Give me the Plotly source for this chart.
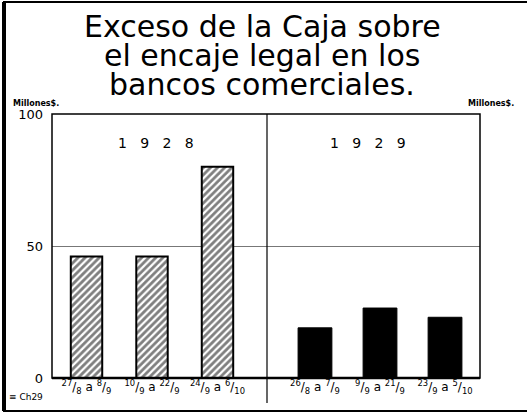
import plotly.graph_objects as go

# ---- data ----
cats_1928 = ["27/8 a 8/9", "10/9 a 22/9", "24/9 a 6/10"]
vals_1928 = [46, 46, 80]
cats_1929 = ["26/8 a 7/9", "9/9 a 21/9", "23/9 a 5/10"]
vals_1929 = [19, 26.5, 23]
tick_1928 = ["<sup>27</sup>/<sub>8</sub> a <sup>8</sup>/<sub>9</sub>",
             "<sup>10</sup>/<sub>9</sub> a <sup>22</sup>/<sub>9</sub>",
             "<sup>24</sup>/<sub>9</sub> a <sup>6</sup>/<sub>10</sub>"]
tick_1929 = ["<sup>26</sup>/<sub>8</sub> a <sup>7</sup>/<sub>9</sub>",
             "<sup>9</sup>/<sub>9</sub> a <sup>21</sup>/<sub>9</sub>",
             "<sup>23</sup>/<sub>9</sub> a <sup>5</sup>/<sub>10</sub>"]
y_ticks = [0, 50, 100]
y_ticktext = ["0", "50", "100"]

FONT = "DejaVu Sans"

# pixel geometry helpers
L, R, T, B = 52, 480, 114, 378
W, H = 527, 415
def px(x):
    return (x - L) / (R - L)
def py(y):
    return (B - y) / (B - T)

split = px(267)

fig = go.Figure()
fig.add_trace(go.Bar(
    x=cats_1928, y=vals_1928, xaxis="x", yaxis="y", width=0.48,
    marker=dict(color="white", line=dict(color="black", width=2),
                pattern=dict(shape="/", fgcolor="black", bgcolor="white",
                             size=5, solidity=0.55)),
    showlegend=False, hoverinfo="skip"))
fig.add_trace(go.Bar(
    x=cats_1929, y=vals_1929, xaxis="x2", yaxis="y", width=0.52,
    marker=dict(color="black", line=dict(color="black", width=1)),
    showlegend=False, hoverinfo="skip"))

tickfont = dict(family=FONT, size=13, color="black")
fig.update_layout(
    width=W, height=H,
    margin=dict(l=L, r=W - R, t=T, b=H - B, pad=0),
    paper_bgcolor="white", plot_bgcolor="white",
    xaxis=dict(domain=[0, split], type="category", range=[-0.527, 2.756],
               tickvals=cats_1928, ticktext=tick_1928, showgrid=False,
               zeroline=False, showline=False, ticks="",
               tickfont=dict(family=FONT, size=12, color="black")),
    xaxis2=dict(domain=[split, 1], type="category", range=[-0.738, 2.538],
                anchor="y", tickvals=cats_1929, ticktext=tick_1929,
                showgrid=False, zeroline=False, showline=False, ticks="",
                tickfont=dict(family=FONT, size=12, color="black")),
    yaxis=dict(range=[0, 100], tickvals=y_ticks, ticktext=y_ticktext,
               showgrid=True, gridcolor="#777777", gridwidth=1.2,
               zeroline=False, showline=False, ticks="", ticklabelstandoff=8,
               tickfont=tickfont),
    yaxis2=dict(range=[0, 100], overlaying="y", side="right", anchor="x2",
                tickvals=y_ticks, ticktext=y_ticktext, showgrid=False,
                zeroline=False, showline=False, ticks="", ticklabelstandoff=18,
                tickfont=tickfont),
)

shapes = []
shapes.append(dict(type="rect", xref="paper", yref="paper", x0=0, x1=1, y0=0, y1=1,
                   line=dict(color="black", width=1.5)))
shapes.append(dict(type="line", xref="paper", yref="paper", x0=split, x1=split, y0=py(403), y1=1,
                   line=dict(color="black", width=1.2)))
shapes.append(dict(type="line", xref="paper", yref="paper", x0=0, x1=1, y0=0, y1=0,
                   line=dict(color="black", width=2.5)))
shapes.append(dict(type="line", xref="paper", yref="paper", x0=px(4), x1=px(4), y0=py(411), y1=py(2),
                   line=dict(color="black", width=4)))
shapes.append(dict(type="line", xref="paper", yref="paper", x0=px(3), x1=px(527), y0=py(2), y1=py(2),
                   line=dict(color="black", width=2)))
shapes.append(dict(type="line", xref="paper", yref="paper", x0=px(3), x1=px(527), y0=py(411), y1=py(411),
                   line=dict(color="black", width=2)))
fig.update_layout(shapes=shapes)

ann = []
title_lines = ["Exceso de la Caja sobre", "el encaje legal en los", "bancos comerciales."]
for line, yy in zip(title_lines, [27, 55, 84]):
    ann.append(dict(text=line, xref="paper", yref="paper", x=px(262), y=py(yy),
                    showarrow=False, xanchor="center", yanchor="middle",
                    font=dict(family=FONT, size=30, color="black")))
ann.append(dict(text="1   9   2   8", xref="paper", yref="paper", x=px(156), y=py(143),
                showarrow=False, xanchor="center", yanchor="middle",
                font=dict(family=FONT, size=14, color="black")))
ann.append(dict(text="1   9   2   9", xref="paper", yref="paper", x=px(368), y=py(143),
                showarrow=False, xanchor="center", yanchor="middle",
                font=dict(family=FONT, size=14, color="black")))
ann.append(dict(text="<b>Millones$.</b>", xref="paper", yref="paper", x=px(11), y=py(97),
                showarrow=False, xanchor="left", font=dict(family=FONT, size=8, color="black")))
ann.append(dict(text="<b>Millones$.</b>", xref="paper", yref="paper", x=px(516), y=py(97),
                showarrow=False, xanchor="right", font=dict(family=FONT, size=8, color="black")))
ann.append(dict(text="\u2261 Ch29", xref="paper", yref="paper", x=px(7), y=py(404),
                showarrow=False, xanchor="left", font=dict(family=FONT, size=9, color="black")))
fig.update_layout(annotations=ann)

fig.write_html("out.html", post_script="document.body.style.margin='0';",
               config={"displayModeBar": False})
